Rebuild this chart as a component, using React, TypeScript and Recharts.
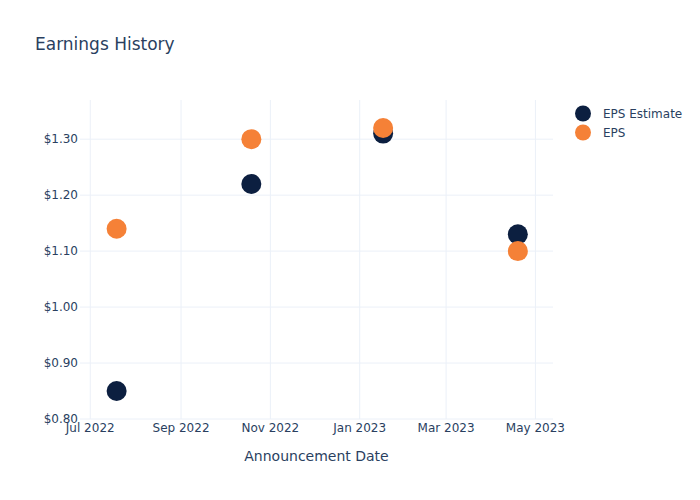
import { ScatterChart, Scatter, XAxis, YAxis, CartesianGrid } from 'recharts';

// Announcement dates and EPS values
const announcementDates = ['2022-07-19', '2022-10-19', '2023-01-17', '2023-04-19'];
const epsEstimate = [0.85, 1.22, 1.31, 1.13];
const epsActual = [1.14, 1.3, 1.32, 1.1];

// Axis ticks
const xTickDates = ['2022-07-01', '2022-09-01', '2022-11-01', '2023-01-01', '2023-03-01', '2023-05-01'];
const yTicks = [0.8, 0.9, 1.0, 1.1, 1.2, 1.3];

const MONTHS = ['Jan', 'Feb', 'Mar', 'Apr', 'May', 'Jun', 'Jul', 'Aug', 'Sep', 'Oct', 'Nov', 'Dec'];
const TEXT = '#2a3f5f';
const GRID = '#ebf0f8';
const NAVY = '#0c1f40';
const ORANGE = '#f58137';
const FONT = '"DejaVu Sans", Verdana, sans-serif';

const toTime = (d: string) => new Date(d + 'T00:00:00Z').getTime();

const estimateData = announcementDates.map((d, i) => ({ date: toTime(d), value: epsEstimate[i] }));
const actualData = announcementDates.map((d, i) => ({ date: toTime(d), value: epsActual[i] }));
const xTicks = xTickDates.map(toTime);

const formatMonth = (t: number) => {
  const d = new Date(t);
  return `${MONTHS[d.getUTCMonth()]} ${d.getUTCFullYear()}`;
};

const dot = (color: string) => (props: any) => (
  <circle cx={props.cx} cy={props.cy} r={10} fill={color} />
);

const legendItems = [
  { label: 'EPS Estimate', color: NAVY },
  { label: 'EPS', color: ORANGE },
];

function LegendBox() {
  return (
    <div
      style={{
        position: 'absolute',
        left: 573,
        top: 104,
        fontFamily: FONT,
        fontSize: 12,
        color: TEXT,
      }}
    >
      {legendItems.map((item) => (
        <div key={item.label} style={{ display: 'flex', alignItems: 'center', height: 19 }}>
          <svg width={20} height={19}>
            <circle cx={10} cy={9.5} r={8} fill={item.color} />
          </svg>
          <span style={{ marginLeft: 10 }}>{item.label}</span>
        </div>
      ))}
    </div>
  );
}

export default function App() {
  return (
    <div style={{ position: 'absolute', left: 0, top: 0, width: 700, height: 500, background: '#fff' }}>
      <style>{'body{margin:0}'}</style>
      <div
        style={{
          position: 'absolute',
          left: 35,
          top: 33,
          fontFamily: FONT,
          fontSize: 17,
          color: TEXT,
          lineHeight: '22px',
        }}
      >
        Earnings History
      </div>
      <ScatterChart width={700} height={500} margin={{ top: 100, right: 147, bottom: 36, left: 0 }}>
        <CartesianGrid
          stroke={GRID}
          strokeWidth={1}
          horizontalValues={yTicks}
          verticalValues={xTicks}
        />
        <XAxis
          type="number"
          dataKey="date"
          domain={[Date.UTC(2022, 5, 24), Date.UTC(2023, 4, 13)]}
          ticks={xTicks}
          tickFormatter={formatMonth}
          axisLine={false}
          tickLine={false}
          tickSize={0}
          tickMargin={4}
          height={45}
          tick={{ fill: TEXT, fontSize: 12, fontFamily: FONT }}
          label={{
            value: 'Announcement Date',
            position: 'insideBottom',
            offset: 3,
            fill: TEXT,
            fontSize: 14,
            fontFamily: FONT,
          }}
        />
        <YAxis
          type="number"
          dataKey="value"
          domain={[0.8, 1.37]}
          ticks={yTicks}
          tickFormatter={(v: number) => `$${v.toFixed(2)}`}
          axisLine={false}
          tickLine={false}
          tickSize={0}
          tickMargin={2}
          width={80}
          tick={{ fill: TEXT, fontSize: 12, fontFamily: FONT }}
        />
        <Scatter
          name="EPS Estimate"
          data={estimateData}
          fill={NAVY}
          shape={dot(NAVY)}
          isAnimationActive={false}
        />
        <Scatter
          name="EPS"
          data={actualData}
          fill={ORANGE}
          shape={dot(ORANGE)}
          isAnimationActive={false}
        />
      </ScatterChart>
      <LegendBox />
    </div>
  );
}
